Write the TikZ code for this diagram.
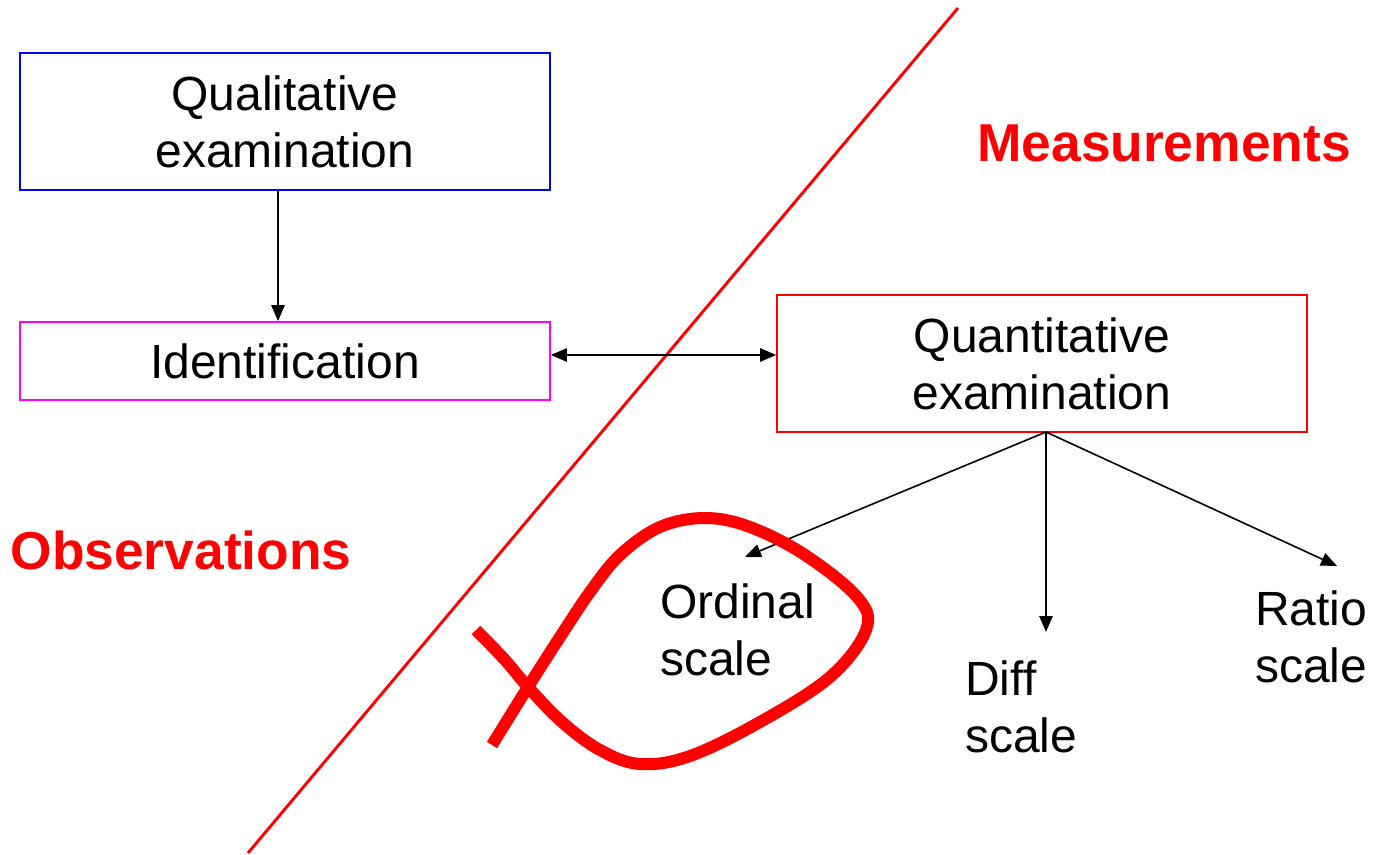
\documentclass[tikz,border=0pt]{standalone}
\usepackage{fontspec}
\setmainfont{Liberation Sans}
\usetikzlibrary{arrows.meta}
\definecolor{boxblue}{RGB}{0,0,255}
\definecolor{boxmag}{RGB}{255,0,255}
\definecolor{boxred}{RGB}{255,0,0}
\tikzset{
  box/.style={draw, line width=1.3pt, minimum width=397.5pt, align=center, inner sep=0pt,
    font=\fontsize{36pt}{42.75pt}\selectfont},
  lbl/.style={align=left, inner sep=0pt, anchor=west, font=\fontsize{36pt}{42.75pt}\selectfont},
  title/.style={text=boxred, inner sep=0pt, font=\fontsize{40pt}{48pt}\selectfont\bfseries},
  conn/.style={line width=1.2pt, -{Triangle[length=12pt,width=10pt]}},
  dconn/.style={line width=1.2pt, {Triangle[length=12pt,width=10pt]}-{Triangle[length=12pt,width=10pt]}}
}
\begin{document}
\begin{tikzpicture}[x=0.75pt,y=-0.75pt]
\useasboundingbox[fill=white] (0,0) rectangle (1374,855);
% dividing line
\coordinate (ltop) at (958,8);
\coordinate (lbot) at (248,853);
\draw[boxred, line width=2.2pt] (ltop) -- (lbot);
% boxes
\node[box, draw=boxblue, minimum height=102.75pt] (qual) at (285,121.5) {Qualitative\\examination};
\node[box, draw=boxmag, minimum height=58.5pt] (ident) at (285,361) {Identification};
\node[box, draw=boxred, minimum height=102.75pt] (quant) at (1042,363.5) {Quantitative\\examination};
% titles
\node[title] (meas) at (1164,143) {Measurements};
\node[title] (obs) at (181,550) {Observations};
% scale labels
\node[lbl] (ord) at (660,630) {Ordinal\\scale};
\node[lbl] (diff) at (965,707) {Diff\\scale};
\node[lbl] (ratio) at (1255,637) {Ratio\\scale};
% arrow tips
\coordinate (ordtip) at (745,557);
\coordinate (difftip) at (1046,632);
\coordinate (ratiotip) at (1337,566);
\coordinate (qs) at (1046,432);
% connectors
\draw[conn] ([xshift=-5.25pt]qual.south) -- ([xshift=-5.25pt]ident.north);
\draw[dconn] ([yshift=4.5pt]ident.east) -- ([yshift=4.5pt]ident.east -| quant.west);
\draw[conn] (qs) -- (ordtip);
\draw[conn] (qs) -- (difftip);
\draw[conn] (qs) -- (ratiotip);
% red loop
\draw[boxred, line width=9pt, line cap=butt, line join=round]
  plot[smooth, tension=0.6] coordinates {(476,630) (505,660) (528,687) (562,722) (600,750) (640,764) (690,756) (760,722) (830,677) (866,630) (858,598) (805,555) (750,527) (705,518) (660,527) (620,555) (590,592) (560,637) (528,687) (492,745)};
\end{tikzpicture}
\end{document}
